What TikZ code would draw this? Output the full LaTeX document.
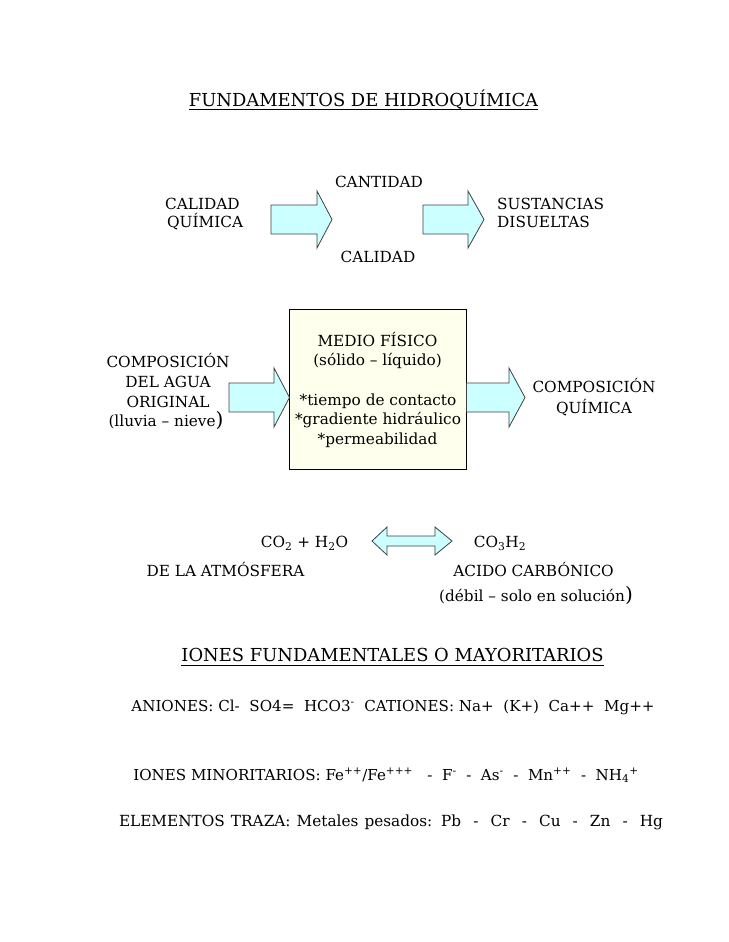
\documentclass[tikz,border=0pt]{standalone}
\usepackage{fontspec}
\setmainfont{DejaVu Serif}
\definecolor{arrowfill}{HTML}{CCFFFF}
\definecolor{boxfill}{HTML}{FFFFEE}
\begin{document}
\begin{tikzpicture}[x=1pt,y=-1pt,
  txt/.style={inner sep=0pt, anchor=base, font=\fontsize{15.3}{18}\selectfont},
  txts/.style={inner sep=0pt, anchor=base, font=\fontsize{15.1}{18}\selectfont},
  txtl/.style={txt, anchor=base west},
  head/.style={inner sep=0pt, anchor=base, font=\fontsize{17.9}{21}\selectfont},
  blockarrow/.style={draw=black!75, fill=arrowfill, line width=0.8pt, line join=miter},
  ulin/.style={line width=0.9pt}]
\path[use as bounding box] (0,0) rectangle (728,942);

% title
\node[head] (title) at (363.5,106) {FUNDAMENTOS DE HIDROQUÍMICA};
\draw[ulin] ([yshift=-3.5pt]title.base west) -- ([yshift=-3.5pt]title.base east);

% first row
\node[txt] (cant) at (379,187.5) {CANTIDAD};
\node[txt] (cal) at (378,262.5) {CALIDAD};
\node[txtl] (calq1) at (165,209.5) {CALIDAD};
\node[txtl] (calq2) at (167,227.5) {QUÍMICA};
\node[txtl] (sus1) at (497,209.5) {SUSTANCIAS};
\node[txtl] (sus2) at (497,227.5) {DISUELTAS};
\draw[blockarrow] (271,205) -- (317,205) -- (317,191) -- (332,219.5) -- (317,248) -- (317,234) -- (271,234) -- cycle;
\draw[blockarrow] (423,205) -- (468,205) -- (468,191) -- (484,219.5) -- (468,248) -- (468,234) -- (423,234) -- cycle;

% box
\node[draw, fill=boxfill, line width=0.9pt, inner sep=0pt, minimum width=177pt, minimum height=160pt] (box) at (377.5,389) {};
\node[txt] (b1) at (377.5,346.5) {MEDIO FÍSICO};
\node[txt] (b2) at (377.5,365.5) {(sólido – líquido)};
\node[txt] (b3) at (378,405) {*tiempo de contacto};
\node[txt] (b4) at (378,424.5) {*gradiente hidráulico};
\node[txt] (b5) at (377.5,444) {*permeabilidad};

% left text
\node[txt] (l1) at (168,367.5) {COMPOSICIÓN};
\node[txt] (l2) at (168,387.5) {DEL AGUA};
\node[txt] (l3) at (168,407.5) {ORIGINAL};
\node[txt] (l4) at (166,426.5) {(lluvia – nieve{\fontsize{20}{20}\selectfont )}};
% right text
\node[txt] (r1) at (594,392.5) {COMPOSICIÓN};
\node[txt] (r2) at (594,413.5) {QUÍMICA};

\draw[blockarrow] (229,383) -- (274,383) -- (274,368) -- (289.5,397.5) -- (274,427) -- (274,412) -- (229,412) -- cycle;
\draw[blockarrow] (466.5,383) -- (509,383) -- (509,368) -- (525,397.5) -- (509,427) -- (509,412) -- (466.5,412) -- cycle;

% carbonic acid
\node[txt] (co2) at (304.5,547.5) {CO\textsubscript{2} + H\textsubscript{2}O};
\node[txt] (co3) at (500,547.5) {CO\textsubscript{3}H\textsubscript{2}};
\draw[blockarrow] (372,541) -- (387,527) -- (387,536) -- (435,536) -- (435,527) -- (452,541) -- (435,555) -- (435,546) -- (387,546) -- (387,555) -- cycle;
\node[txt] (atm) at (225.5,576.5) {DE LA ATMÓSFERA};
\node[txt] (acid) at (533.5,576.5) {ACIDO CARBÓNICO};
\node[txt] (deb) at (536,601) {(débil – solo en solución{\fontsize{20}{20}\selectfont )}};

% ions
\node[head] (ionf) at (392.5,661.5) {IONES FUNDAMENTALES O MAYORITARIOS};
\draw[ulin] ([yshift=-3.5pt]ionf.base west) -- ([yshift=-3.5pt]ionf.base east);
\node[txts] (anion) at (393,711) {ANIONES: Cl-\ \ SO4=\ \ HCO3\textsuperscript{-}\ \ CATIONES: Na+\ \ (K+)\ \ Ca++\ \ Mg++};
\node[txts] (ionm) at (386,780) {IONES MINORITARIOS: Fe\textsuperscript{++}/Fe\textsuperscript{+++}\ \ \ -\ \ F\textsuperscript{-}\ \ -\ \ As\textsuperscript{-}\ \ -\ \ Mn\textsuperscript{++}\ \ -\ \ NH\textsubscript{4}\textsuperscript{+}};
\node[txt] (traza) at (391,826) {\makebox[544pt][s]{ELEMENTOS TRAZA: Metales pesados: Pb\ \ -\ \ Cr\ \ -\ \ Cu\ \ -\ \ Zn\ \ -\ \ Hg}};
\end{tikzpicture}
\end{document}
